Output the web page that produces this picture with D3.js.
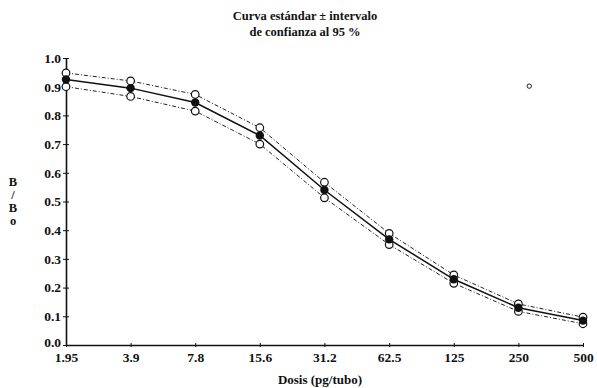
<!DOCTYPE html>
<html>
<head>
<meta charset="utf-8">
<script src="https://cdn.jsdelivr.net/npm/d3@7"></script>
<style>
  html, body { margin: 0; padding: 0; background: #fff; }
  svg text { font-family: "Liberation Serif", "DejaVu Serif", serif; fill: #111; }
</style>
</head>
<body>
<svg id="chart" width="597" height="388"></svg>
<script>
const doses = [1.95, 3.9, 7.8, 15.6, 31.2, 62.5, 125, 250, 500];
const doseLabels = ["1.95", "3.9", "7.8", "15.6", "31.2", "62.5", "125", "250", "500"];
const meanValues  = [0.925, 0.895, 0.845, 0.730, 0.540, 0.368, 0.229, 0.130, 0.085];
const upperValues = [0.948, 0.920, 0.873, 0.757, 0.567, 0.389, 0.244, 0.143, 0.097];
const lowerValues = [0.900, 0.866, 0.815, 0.700, 0.513, 0.350, 0.215, 0.117, 0.074];
const yTicks = [0, 0.1, 0.2, 0.3, 0.4, 0.5, 0.6, 0.7, 0.8, 0.9, 1.0];
const strayPoint = [{ dose: 281, value: 0.902 }];
const titleLines = ["Curva estándar ± intervalo", "de confianza al 95 %"];
const xTitle = "Dosis (pg/tubo)";
const yTitleChars = ["B", "/", "B", "o"];

const svg = d3.select("#chart");
const x = d3.scaleLog().base(2).domain([1.95, 500]).range([66, 583]);
const y = d3.scaleLinear().domain([0, 1]).range([345, 58]);

// Axes
const xAxis = d3.axisBottom(x).tickValues(doses).tickFormat((d, i) => doseLabels[i]).tickSize(3).tickSizeOuter(0);
const gx = svg.append("g").attr("transform", "translate(0,345)").call(xAxis);
gx.select(".domain").attr("stroke", "#111").attr("stroke-width", 1.6);
gx.selectAll(".tick line").attr("stroke", "#111").attr("y1", -2).attr("y2", 2);
gx.selectAll(".tick text").attr("dy", "0.8em").attr("y", 6)
  .style("font-size", "13.5px").style("font-weight", "bold");

const yAxis = d3.axisLeft(y).tickValues(yTicks).tickFormat(d3.format(".1f")).tickSize(3).tickSizeOuter(0);
const gy = svg.append("g").attr("transform", "translate(66,0)").call(yAxis);
gy.select(".domain").attr("stroke", "#111").attr("stroke-width", 1.6);
gy.selectAll(".tick line").attr("stroke", "#111").attr("x1", -3).attr("x2", 3);
gy.selectAll(".tick text").attr("x", -5).attr("dy", d => d === 0 ? "0.1em" : "0.32em")
  .style("font-size", "13.5px").style("font-weight", "bold");

// Lines
const lineGen = vals => d3.line().x((d, i) => x(doses[i])).y(d => y(d))(vals);
svg.append("path").attr("d", lineGen(upperValues)).attr("fill", "none")
  .attr("stroke", "#222").attr("stroke-width", 1).attr("stroke-dasharray", "4,2,1,2");
svg.append("path").attr("d", lineGen(lowerValues)).attr("fill", "none")
  .attr("stroke", "#222").attr("stroke-width", 1).attr("stroke-dasharray", "4,2,1,2");
svg.append("path").attr("d", lineGen(meanValues)).attr("fill", "none")
  .attr("stroke", "#111").attr("stroke-width", 1.5);

// Markers
[upperValues, lowerValues].forEach(vals => {
  svg.append("g").selectAll("circle").data(vals).join("circle")
    .attr("cx", (d, i) => x(doses[i])).attr("cy", d => y(d)).attr("r", 3.8)
    .attr("fill", "#fff").attr("stroke", "#111").attr("stroke-width", 1.2);
});
svg.append("g").selectAll("circle").data(meanValues).join("circle")
  .attr("cx", (d, i) => x(doses[i])).attr("cy", d => y(d)).attr("r", 4.2)
  .attr("fill", "#111");

svg.append("g").selectAll("circle").data(strayPoint).join("circle")
  .attr("cx", d => x(d.dose)).attr("cy", d => y(d.value)).attr("r", 2.2)
  .attr("fill", "none").attr("stroke", "#222").attr("stroke-width", 1);

// Titles
svg.append("g").selectAll("text").data(titleLines).join("text")
  .attr("x", 305).attr("y", (d, i) => 20 + i * 16).attr("text-anchor", "middle")
  .style("font-size", "12.5px").style("font-weight", "bold").text(d => d);

svg.append("text").attr("x", 320).attr("y", 384).attr("text-anchor", "middle")
  .style("font-size", "13px").style("font-weight", "bold").text(xTitle);

svg.append("g").selectAll("text").data(yTitleChars).join("text")
  .attr("x", 13).attr("y", (d, i) => 186 + i * 13).attr("text-anchor", "middle")
  .style("font-size", "12.5px").style("font-weight", "bold").text(d => d);
</script>
</body>
</html>
